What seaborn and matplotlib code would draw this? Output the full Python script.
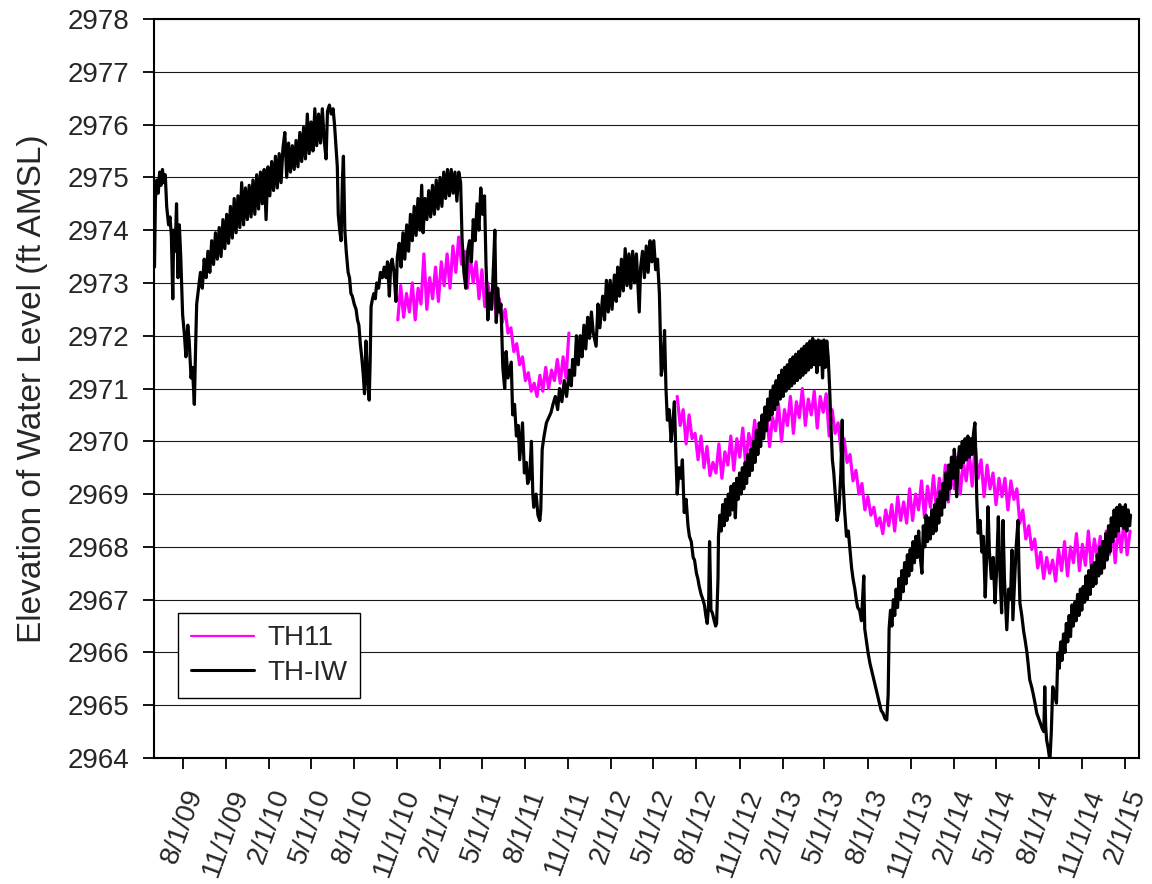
import matplotlib
matplotlib.use("Agg")
import matplotlib.pyplot as plt
import matplotlib.dates as mdates
import matplotlib.ticker as ticker
from matplotlib.lines import Line2D
import seaborn as sns
import pandas as pd

# TH-IW readings, (month-day, elevation ft AMSL) per year
tiw_2009 = [
    ("06-02", 2973.3), ("06-04", 2974.6), ("06-07", 2974.95), ("06-10", 2974.7), ("06-13", 2975.1),
    ("06-16", 2974.85), ("06-19", 2975.15), ("06-22", 2974.9), ("06-25", 2975.05), ("06-28", 2974.45),
    ("07-02", 2974.1), ("07-05", 2974.25), ("07-08", 2973.9), ("07-11", 2972.7), ("07-13", 2974.0),
    ("07-16", 2973.6), ("07-19", 2974.5), ("07-22", 2973.1), ("07-25", 2974.1), ("07-28", 2973.5),
    ("08-01", 2972.4), ("08-05", 2972.0), ("08-08", 2971.6), ("08-12", 2972.2), ("08-15", 2971.9),
    ("08-19", 2971.2), ("08-22", 2971.4), ("08-26", 2970.7), ("08-29", 2971.9), ("08-31", 2972.6),
    ("09-04", 2972.9), ("09-08", 2973.2), ("09-12", 2972.9), ("09-16", 2973.45), ("09-20", 2973.1),
    ("09-24", 2973.6), ("09-28", 2973.2), ("10-02", 2973.8), ("10-06", 2973.35), ("10-10", 2973.95),
    ("10-14", 2973.45), ("10-18", 2974.05), ("10-22", 2973.5), ("10-26", 2974.2), ("10-30", 2973.65),
    ("11-03", 2974.3), ("11-07", 2973.75), ("11-11", 2974.45), ("11-15", 2973.85), ("11-19", 2974.6),
    ("11-23", 2973.95), ("11-27", 2974.65), ("12-01", 2974.05), ("12-05", 2974.9), ("12-09", 2974.1),
    ("12-13", 2974.8), ("12-17", 2974.2), ("12-21", 2974.85), ("12-25", 2974.25), ("12-29", 2974.95),
]
tiw_2010 = [
    ("01-02", 2974.3), ("01-06", 2975.05), ("01-10", 2974.4), ("01-14", 2975.1), ("01-18", 2974.5),
    ("01-22", 2975.15), ("01-26", 2974.2), ("01-30", 2975.2), ("02-03", 2974.65), ("02-07", 2975.3),
    ("02-11", 2974.75), ("02-15", 2975.4), ("02-19", 2974.8), ("02-23", 2975.45), ("02-27", 2974.9),
    ("03-03", 2975.55), ("03-07", 2975.85), ("03-11", 2975.0), ("03-15", 2975.65), ("03-19", 2975.1),
    ("03-23", 2975.6), ("03-27", 2975.15), ("03-31", 2975.7), ("04-04", 2975.2), ("04-08", 2975.85),
    ("04-12", 2975.3), ("04-16", 2975.95), ("04-20", 2975.35), ("04-24", 2976.2), ("04-28", 2975.45),
    ("05-02", 2976.05), ("05-06", 2975.5), ("05-10", 2976.3), ("05-14", 2975.6), ("05-18", 2976.2),
    ("05-22", 2975.65), ("05-26", 2976.3), ("05-30", 2975.7), ("06-03", 2975.35), ("06-06", 2976.25),
    ("06-10", 2976.37), ("06-14", 2976.2), ("06-18", 2976.3), ("06-21", 2976.0), ("06-24", 2975.6),
    ("06-27", 2975.2), ("06-29", 2974.3), ("07-02", 2974.0), ("07-05", 2973.8), ("07-08", 2975.0),
    ("07-10", 2975.4), ("07-13", 2974.0), ("07-16", 2973.6), ("07-20", 2973.2), ("07-23", 2973.1),
    ("07-26", 2972.8), ("07-29", 2972.75), ("08-02", 2972.6), ("08-06", 2972.5), ("08-09", 2972.3),
    ("08-12", 2972.2), ("08-15", 2971.85), ("08-18", 2971.6), ("08-21", 2971.3), ("08-24", 2970.9),
    ("08-27", 2971.9), ("08-30", 2971.3), ("09-01", 2971.0), ("09-03", 2970.78), ("09-05", 2971.5),
    ("09-07", 2972.55), ("09-10", 2972.7), ("09-13", 2972.8), ("09-16", 2972.7), ("09-19", 2973.0),
    ("09-23", 2972.9), ("09-27", 2973.2), ("10-01", 2973.1), ("10-05", 2973.3), ("10-09", 2973.1),
    ("10-12", 2973.4), ("10-16", 2972.75), ("10-19", 2973.35), ("10-22", 2973.45), ("10-26", 2973.2),
    ("10-30", 2972.65), ("11-02", 2973.5), ("11-06", 2973.75), ("11-10", 2973.3), ("11-14", 2973.95),
    ("11-18", 2973.45), ("11-22", 2974.1), ("11-26", 2973.6), ("11-30", 2974.3), ("12-04", 2973.8),
    ("12-08", 2974.45), ("12-12", 2973.9), ("12-16", 2974.6), ("12-20", 2974.0), ("12-24", 2974.85),
    ("12-27", 2973.95), ("12-31", 2974.6),
]
tiw_2011 = [
    ("01-04", 2974.2), ("01-08", 2974.75), ("01-12", 2974.25), ("01-16", 2974.85), ("01-20", 2974.3),
    ("01-24", 2974.95), ("01-28", 2974.4), ("02-01", 2975.0), ("02-05", 2974.45), ("02-09", 2975.1),
    ("02-13", 2974.6), ("02-17", 2975.15), ("02-21", 2974.65), ("02-25", 2975.15), ("03-01", 2974.7),
    ("03-05", 2975.1), ("03-09", 2974.55), ("03-13", 2975.1), ("03-17", 2974.9), ("03-20", 2973.85),
    ("03-24", 2973.2), ("03-28", 2972.9), ("04-01", 2973.6), ("04-05", 2973.8), ("04-09", 2973.4),
    ("04-13", 2974.2), ("04-17", 2973.8), ("04-21", 2974.5), ("04-25", 2974.0), ("04-29", 2974.8),
    ("05-03", 2974.3), ("05-07", 2974.65), ("05-10", 2973.4), ("05-14", 2972.3), ("05-18", 2972.8),
    ("05-22", 2972.5), ("05-26", 2973.3), ("05-29", 2974.0), ("06-01", 2972.25), ("06-04", 2972.9),
    ("06-08", 2972.45), ("06-11", 2972.6), ("06-15", 2971.4), ("06-19", 2971.0), ("06-22", 2971.7),
    ("06-26", 2971.2), ("07-03", 2971.5), ("07-06", 2970.5), ("07-10", 2970.7), ("07-14", 2970.1),
    ("07-18", 2970.3), ("07-21", 2969.65), ("07-27", 2970.35), ("07-31", 2969.4), ("08-04", 2969.6),
    ("08-07", 2969.2), ("08-11", 2969.3), ("08-15", 2970.0), ("08-18", 2969.0), ("08-20", 2968.75),
    ("08-25", 2969.0), ("08-29", 2968.6), ("09-02", 2968.5), ("09-04", 2968.7), ("09-07", 2969.85),
    ("09-11", 2970.1), ("09-16", 2970.35), ("09-21", 2970.45), ("09-26", 2970.55), ("09-30", 2970.7),
    ("10-05", 2970.85), ("10-10", 2970.6), ("10-14", 2971.0), ("10-19", 2970.75), ("10-24", 2971.15),
    ("10-29", 2970.85), ("11-04", 2971.35), ("11-08", 2971.05), ("11-11", 2971.55), ("11-15", 2971.25),
    ("11-19", 2972.0), ("11-23", 2971.45), ("11-27", 2972.0), ("12-01", 2971.6), ("12-05", 2972.2),
    ("12-09", 2971.75), ("12-13", 2972.35), ("12-17", 2971.95), ("12-21", 2972.45), ("12-25", 2972.05),
    ("12-31", 2971.8),
]
tiw_2012 = [
    ("01-04", 2972.6), ("01-08", 2972.15), ("01-14", 2972.75), ("01-18", 2972.3), ("01-22", 2973.05),
    ("01-26", 2972.45), ("01-30", 2973.05), ("02-03", 2972.5), ("02-08", 2973.15), ("02-12", 2972.65),
    ("02-15", 2973.3), ("02-19", 2972.75), ("02-23", 2973.45), ("02-27", 2972.85), ("03-02", 2973.65),
    ("03-06", 2972.95), ("03-10", 2973.55), ("03-14", 2972.9), ("03-18", 2973.6), ("03-22", 2973.0),
    ("03-26", 2973.55), ("04-01", 2972.45), ("04-04", 2973.3), ("04-08", 2973.6), ("04-12", 2973.1),
    ("04-16", 2973.7), ("04-20", 2973.2), ("04-24", 2973.8), ("04-28", 2973.4), ("05-02", 2973.8),
    ("05-06", 2973.25), ("05-10", 2973.45), ("05-14", 2972.8), ("05-18", 2971.25), ("05-22", 2971.5),
    ("05-25", 2972.1), ("05-28", 2971.0), ("05-31", 2970.4), ("06-04", 2970.6), ("06-08", 2970.0),
    ("06-12", 2970.4), ("06-15", 2970.75), ("06-18", 2969.8), ("06-21", 2969.0), ("06-25", 2969.5),
    ("06-29", 2969.3), ("07-02", 2969.65), ("07-06", 2968.65), ("07-10", 2968.9), ("07-14", 2968.4),
    ("07-17", 2968.2), ("07-21", 2968.1), ("07-25", 2967.8), ("07-28", 2967.75), ("08-01", 2967.5),
    ("08-04", 2967.4), ("08-07", 2967.25), ("08-11", 2967.1), ("08-15", 2967.0), ("08-18", 2966.9),
    ("08-21", 2966.7), ("08-24", 2966.55), ("08-27", 2966.9), ("08-29", 2968.1), ("09-01", 2966.8),
    ("09-04", 2966.75), ("09-08", 2966.6), ("09-11", 2966.5), ("09-13", 2966.55), ("09-16", 2967.4),
    ("09-17", 2968.2), ("09-20", 2968.6), ("09-23", 2968.3), ("09-26", 2968.8), ("09-29", 2968.4),
    ("10-02", 2968.9), ("10-05", 2968.5), ("10-08", 2969.0), ("10-11", 2968.6), ("10-14", 2969.15),
    ("10-17", 2968.7), ("10-20", 2969.2), ("10-23", 2968.55), ("10-26", 2969.3), ("10-29", 2968.9),
    ("11-01", 2969.4), ("11-04", 2969.0), ("11-07", 2969.5), ("11-10", 2969.1), ("11-13", 2969.6),
    ("11-16", 2969.2), ("11-19", 2969.75), ("11-22", 2969.35), ("11-25", 2969.85), ("11-28", 2969.45),
    ("12-01", 2970.0), ("12-04", 2969.6), ("12-07", 2970.2), ("12-10", 2969.75), ("12-13", 2970.35),
    ("12-16", 2969.9), ("12-19", 2970.5), ("12-22", 2970.05), ("12-25", 2970.65), ("12-28", 2970.2),
    ("12-31", 2970.8),
]
tiw_2013 = [
    ("01-03", 2970.4), ("01-06", 2970.95), ("01-09", 2970.5), ("01-12", 2971.05), ("01-15", 2970.6),
    ("01-18", 2971.15), ("01-21", 2970.7), ("01-24", 2971.25), ("01-27", 2970.8), ("01-30", 2971.35),
    ("02-02", 2970.85), ("02-05", 2971.4), ("02-08", 2970.95), ("02-11", 2971.45), ("02-14", 2971.0),
    ("02-17", 2971.55), ("02-20", 2971.05), ("02-23", 2971.6), ("02-26", 2971.1), ("03-01", 2971.65),
    ("03-04", 2971.15), ("03-07", 2971.7), ("03-10", 2971.2), ("03-13", 2971.75), ("03-16", 2971.25),
    ("03-19", 2971.8), ("03-22", 2971.3), ("03-25", 2971.85), ("03-28", 2971.35), ("03-31", 2971.9),
    ("04-03", 2971.4), ("04-06", 2971.95), ("04-09", 2971.45), ("04-12", 2971.9), ("04-15", 2971.3),
    ("04-18", 2971.92), ("04-21", 2971.45), ("04-24", 2971.9), ("04-27", 2971.2), ("04-30", 2971.92),
    ("05-03", 2971.4), ("05-06", 2971.9), ("05-09", 2971.6), ("05-12", 2971.03), ("05-15", 2970.3),
    ("05-18", 2969.65), ("05-21", 2969.4), ("05-25", 2968.9), ("05-28", 2968.5), ("06-01", 2968.7),
    ("06-05", 2969.4), ("06-08", 2970.4), ("06-10", 2969.2), ("06-13", 2968.7), ("06-17", 2968.2),
    ("06-21", 2968.3), ("06-24", 2968.0), ("06-28", 2967.6), ("07-01", 2967.4), ("07-05", 2967.2),
    ("07-08", 2967.0), ("07-11", 2966.85), ("07-15", 2966.8), ("07-19", 2966.6), ("07-24", 2967.45),
    ("07-26", 2966.45), ("07-30", 2966.2), ("08-02", 2966.0), ("08-06", 2965.8), ("08-10", 2965.65),
    ("08-14", 2965.5), ("08-18", 2965.35), ("08-22", 2965.2), ("08-26", 2965.05), ("08-30", 2964.9),
    ("09-03", 2964.85), ("09-07", 2964.75), ("09-11", 2964.72), ("09-14", 2965.2), ("09-16", 2966.45),
    ("09-19", 2966.8), ("09-22", 2966.5), ("09-25", 2967.0), ("09-28", 2966.7), ("10-01", 2967.2),
    ("10-04", 2966.85), ("10-07", 2967.4), ("10-10", 2967.0), ("10-13", 2967.55), ("10-16", 2967.15),
    ("10-19", 2967.7), ("10-22", 2967.3), ("10-25", 2967.85), ("10-28", 2967.45), ("10-31", 2967.95),
    ("11-03", 2967.55), ("11-06", 2968.1), ("11-09", 2967.7), ("11-12", 2968.2), ("11-15", 2967.8),
    ("11-18", 2968.3), ("11-21", 2967.85), ("11-25", 2967.5), ("11-28", 2968.4), ("12-01", 2968.0),
    ("12-04", 2968.6), ("12-07", 2968.1), ("12-10", 2968.55), ("12-13", 2968.15), ("12-16", 2968.7),
    ("12-19", 2968.25), ("12-22", 2968.8), ("12-25", 2968.3), ("12-28", 2968.9), ("12-31", 2968.45),
]
tiw_2014 = [
    ("01-03", 2969.05), ("01-06", 2968.6), ("01-09", 2969.2), ("01-12", 2968.75), ("01-15", 2969.4),
    ("01-18", 2968.9), ("01-21", 2969.55), ("01-24", 2969.1), ("01-27", 2969.7), ("01-30", 2969.3),
    ("02-02", 2969.85), ("02-05", 2969.45), ("02-07", 2968.95), ("02-10", 2969.6), ("02-13", 2969.9),
    ("02-16", 2969.5), ("02-19", 2970.0), ("02-22", 2969.6), ("02-25", 2970.05), ("02-28", 2969.65),
    ("03-03", 2970.1), ("03-06", 2969.7), ("03-09", 2970.05), ("03-12", 2969.75), ("03-15", 2970.15),
    ("03-18", 2970.35), ("03-20", 2969.7), ("03-22", 2968.9), ("03-25", 2968.26), ("03-29", 2968.5),
    ("04-02", 2967.9), ("04-05", 2968.2), ("04-09", 2967.05), ("04-12", 2967.8), ("04-15", 2968.76),
    ("04-18", 2967.9), ("04-22", 2967.4), ("04-26", 2967.8), ("04-30", 2966.94), ("05-03", 2967.5),
    ("05-07", 2968.57), ("05-10", 2967.6), ("05-14", 2966.75), ("05-17", 2968.5), ("05-20", 2967.4),
    ("05-25", 2966.43), ("05-29", 2967.2), ("06-02", 2967.0), ("06-05", 2967.94), ("06-07", 2966.62),
    ("06-11", 2967.4), ("06-14", 2968.0), ("06-18", 2968.5), ("06-20", 2967.6), ("06-22", 2966.94),
    ("06-26", 2966.7), ("06-30", 2966.4), ("07-03", 2966.24), ("07-07", 2966.0), ("07-10", 2965.75),
    ("07-13", 2965.48), ("07-17", 2965.35), ("07-20", 2965.23), ("07-24", 2965.05), ("07-28", 2964.85),
    ("08-01", 2964.75), ("08-05", 2964.65), ("08-09", 2964.55), ("08-12", 2964.5), ("08-14", 2965.35),
    ("08-16", 2964.6), ("08-18", 2964.34), ("08-21", 2964.2), ("08-25", 2963.95), ("08-28", 2964.5),
    ("08-31", 2965.35), ("09-04", 2965.2), ("09-08", 2965.04), ("09-11", 2965.99), ("09-14", 2965.7),
    ("09-17", 2966.2), ("09-20", 2965.85), ("09-23", 2966.35), ("09-26", 2966.0), ("09-29", 2966.55),
    ("10-02", 2966.2), ("10-05", 2966.7), ("10-08", 2966.3), ("10-11", 2966.9), ("10-14", 2966.5),
    ("10-17", 2966.95), ("10-20", 2966.6), ("10-23", 2967.1), ("10-26", 2966.7), ("10-29", 2967.2),
    ("11-01", 2966.8), ("11-04", 2967.25), ("11-07", 2966.95), ("11-10", 2967.45), ("11-13", 2967.0),
    ("11-16", 2967.55), ("11-19", 2967.1), ("11-22", 2967.65), ("11-25", 2967.25), ("11-28", 2967.7),
    ("12-01", 2967.3), ("12-04", 2967.85), ("12-07", 2967.45), ("12-10", 2968.0), ("12-13", 2967.5),
    ("12-16", 2968.1), ("12-19", 2967.6), ("12-22", 2968.25), ("12-25", 2967.75), ("12-28", 2968.4),
    ("12-31", 2967.9),
]
tiw_2015 = [
    ("01-03", 2968.55), ("01-06", 2968.1), ("01-09", 2968.7), ("01-12", 2968.2), ("01-15", 2968.75),
    ("01-18", 2968.3), ("01-21", 2968.8), ("01-24", 2968.4), ("01-27", 2968.75), ("01-30", 2968.35),
    ("02-02", 2968.8), ("02-05", 2968.3), ("02-08", 2968.7), ("02-11", 2968.4), ("02-13", 2968.6),
]

# TH11 readings, taken at even spacing between the first and last date of each record
th11_a_start, th11_a_end = "2010-11-03", "2011-11-03"
th11_a = [
    2972.3, 2972.95, 2972.35, 2972.8, 2972.45, 2973.0, 2972.3, 2972.9, 2972.6, 2973.55,
    2972.5, 2973.1, 2972.7, 2973.3, 2972.65, 2973.4, 2972.95, 2973.55, 2972.9, 2973.7,
    2973.2, 2973.87, 2973.35, 2973.6, 2972.9, 2973.5, 2973.0, 2973.4, 2972.7, 2973.25,
    2972.55, 2973.0, 2972.65, 2972.85, 2972.35, 2972.7, 2972.25, 2972.5, 2972.05, 2972.15,
    2971.7, 2971.85, 2971.45, 2971.6, 2971.15, 2971.3, 2970.95, 2971.1, 2970.85, 2971.25,
    2970.95, 2971.4, 2971.0, 2971.35, 2971.15, 2971.55, 2971.1, 2971.6, 2971.2, 2972.05,
]
th11_b_start, th11_b_end = "2012-06-21", "2015-02-12"
th11_b = [
    2970.85, 2970.3, 2970.6, 2969.95, 2970.5, 2970.05, 2970.15, 2969.65, 2970.1, 2969.5,
    2969.9, 2969.35, 2969.6, 2969.4, 2969.95, 2969.3, 2969.8, 2969.55, 2970.1, 2969.45,
    2970.05, 2969.7, 2970.25, 2969.55, 2970.15, 2969.85, 2970.4, 2969.75, 2970.3, 2970.05,
    2970.55, 2969.9, 2970.45, 2970.2, 2970.7, 2970.0, 2970.6, 2970.3, 2970.85, 2970.15,
    2970.75, 2970.45, 2971.0, 2970.3, 2970.8, 2970.5, 2970.95, 2970.25, 2970.85, 2970.55,
    2970.9, 2970.1, 2970.6, 2970.15, 2970.35, 2969.8, 2970.05, 2969.6, 2969.75, 2969.25,
    2969.45, 2969.0, 2969.2, 2968.7, 2968.95, 2968.6, 2968.75, 2968.4, 2968.55, 2968.25,
    2968.7, 2968.4, 2968.8, 2968.3, 2968.95, 2968.5, 2968.85, 2968.45, 2969.1, 2968.5,
    2969.0, 2968.7, 2969.25, 2968.55, 2969.15, 2968.75, 2969.35, 2968.7, 2969.3, 2968.9,
    2969.55, 2968.85, 2969.45, 2969.1, 2969.7, 2969.0, 2969.6, 2969.25, 2969.8, 2969.15,
    2969.95, 2969.3, 2969.65, 2968.95, 2969.55, 2969.1, 2969.4, 2968.8, 2969.3, 2968.95,
    2969.3, 2968.7, 2969.25, 2968.9, 2969.1, 2968.45, 2968.7, 2968.15, 2968.4, 2967.95,
    2968.15, 2967.6, 2967.9, 2967.4, 2967.8, 2967.5, 2967.75, 2967.35, 2967.95, 2967.55,
    2968.1, 2967.45, 2968.0, 2967.7, 2968.25, 2967.55, 2968.05, 2967.65, 2968.3, 2967.6,
    2968.15, 2967.8, 2968.2, 2967.6, 2968.3, 2967.85, 2968.35, 2967.7, 2968.4, 2967.9,
    2968.55, 2967.85, 2968.3,
]

wells = ["TH11", "TH-IW"]
well_colors = {"TH11": "#FF00FF", "TH-IW": "#000000"}
ytick_values = list(range(2964, 2979))


def build_frame():
    parts = []
    for year, rows in [(2009, tiw_2009), (2010, tiw_2010), (2011, tiw_2011), (2012, tiw_2012),
                       (2013, tiw_2013), (2014, tiw_2014), (2015, tiw_2015)]:
        parts.append(pd.DataFrame({
            "date": pd.to_datetime([f"{year}-{md}" for md, _ in rows]),
            "level": [v for _, v in rows],
            "well": "TH-IW",
            "segment": "TH-IW",
        }))
    for name, start, end, vals in [("TH11-a", th11_a_start, th11_a_end, th11_a),
                                   ("TH11-b", th11_b_start, th11_b_end, th11_b)]:
        parts.append(pd.DataFrame({
            "date": pd.date_range(start, end, periods=len(vals)),
            "level": vals,
            "well": "TH11",
            "segment": name,
        }))
    return pd.concat(parts, ignore_index=True)


df = build_frame()

sns.set_style("white")
plt.rcParams["font.family"] = ["Liberation Sans", "DejaVu Sans"]

fig = plt.figure(figsize=(11.52, 8.84), dpi=100)
ax = fig.add_axes([0.1337, 0.1425, 0.855, 0.836])

sns.lineplot(data=df, x="date", y="level", hue="well", hue_order=wells, palette=well_colors,
             units="segment", estimator=None, sort=False, linewidth=2.3, legend=False, ax=ax)

ax.set_ylim(2964, 2978)
ax.set_xlim(pd.Timestamp("2009-06-01"), pd.Timestamp("2015-03-03"))
ax.yaxis.set_major_locator(ticker.FixedLocator(ytick_values))
ax.yaxis.set_major_formatter(ticker.FormatStrFormatter("%d"))
ax.xaxis.set_major_locator(mdates.MonthLocator(bymonth=[2, 5, 8, 11], bymonthday=1))


def fmt_date(v, _):
    d = mdates.num2date(v)
    return f"{d.month}/{d.day}/{d:%y}"


ax.xaxis.set_major_formatter(ticker.FuncFormatter(fmt_date))

ax.grid(axis="y", color="#1a1a1a", linewidth=0.8)
ax.grid(axis="x", visible=False)
ax.set_axisbelow(True)

ax.tick_params(axis="both", direction="out", length=8, width=1.3, color="black",
               labelsize=20, left=True, bottom=True)
ax.tick_params(axis="y", pad=10)
ax.tick_params(axis="x", pad=12, labelrotation=70)

for spine in ax.spines.values():
    spine.set_visible(True)
    spine.set_color("black")
    spine.set_linewidth(1.5)

ax.set_xlabel("")
ax.set_ylabel("Elevation of Water Level (ft AMSL)", fontsize=24, labelpad=14)

handles = [Line2D([], [], color=well_colors["TH11"], linewidth=1.6),
           Line2D([], [], color=well_colors["TH-IW"], linewidth=2.2)]
leg = ax.legend(handles, wells, loc="lower left", bbox_to_anchor=(0.0244, 0.0808),
                borderaxespad=0, frameon=True, fancybox=False, framealpha=1,
                edgecolor="black", fontsize=20, handlelength=2.3, handletextpad=0.45,
                borderpad=0.45, labelspacing=0.3)
leg.get_frame().set_linewidth(1.0)

fig.savefig("out.png", dpi=100, facecolor="white")
plt.close(fig)
